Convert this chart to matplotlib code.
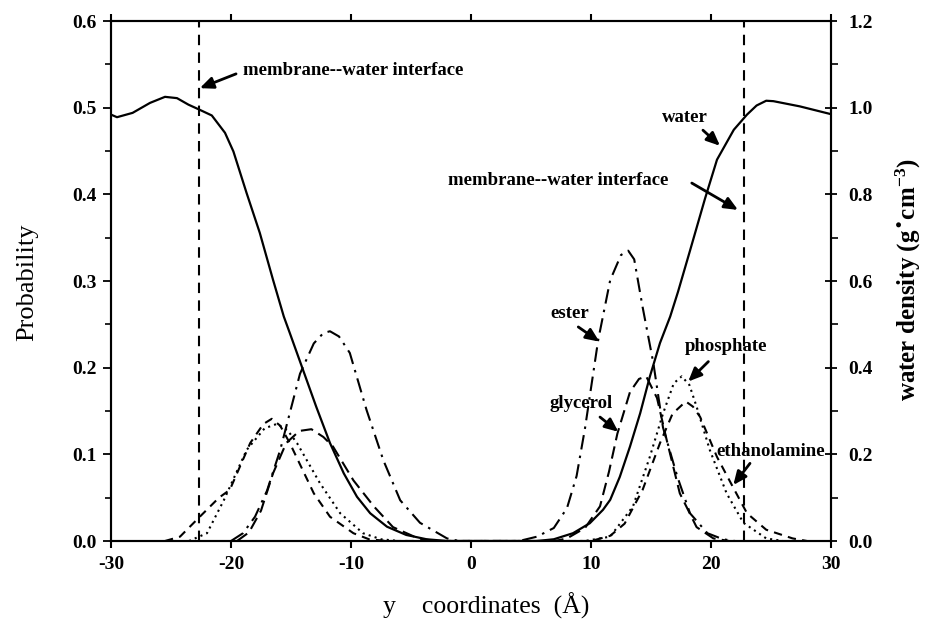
import matplotlib
matplotlib.use("Agg")
import matplotlib.pyplot as plt
from matplotlib.ticker import MultipleLocator

plt.rcParams['font.family'] = ['Liberation Serif', 'DejaVu Serif']
plt.rcParams['mathtext.default'] = 'regular'

# ---------------- data ----------------
water_x = [-30, -29.5, -28.2, -26.75, -25.5, -24.5, -23.55, -22.6, -21.6, -20.5, -19.8, -18.7,
           -17.6, -16.5, -15.6, -15.1, -14.0, -12.9, -11.75, -10.6, -9.5, -8.4, -7.0, -5.4,
           -3.7, -2.0, 0, 2, 4, 5.5, 6.9, 8.5, 9.9, 11.0, 11.6, 12.4, 13.25, 14.1, 14.9,
           15.75, 16.6, 17.25, 18.25, 19.5, 20.5, 21.9, 23.0, 23.8, 24.6, 25.2, 27.4, 30]
water_y = [0.984, 0.978, 0.988, 1.011, 1.025, 1.022, 1.007, 0.995, 0.982, 0.942, 0.899, 0.803,
           0.711, 0.603, 0.518, 0.48, 0.395, 0.31, 0.226, 0.156, 0.102, 0.064, 0.033, 0.014,
           0.004, 0.0, 0.0, 0.0, 0.0, 0.0, 0.004, 0.018, 0.041, 0.072, 0.095, 0.148, 0.218,
           0.295, 0.379, 0.457, 0.518, 0.575, 0.67, 0.79, 0.88, 0.949, 0.984, 1.005, 1.016,
           1.015, 1.003, 0.985]

ester_x = [-20.0, -19.0, -18.0, -17.0, -15.9, -15.0, -14.25, -13.1, -12.3, -11.75, -11.0,
           -10.1, -8.7, -7.3, -5.9, -4.25, -2.0, -1.0,
           4.0, 5.5, 6.9, 8.0, 8.8, 9.5, 10.6, 11.6, 12.5, 13.1, 13.6, 14.3, 15.2, 16.0,
           17.2, 18.25, 19.7, 21.0, 22.0]
ester_y = [0.0, 0.009, 0.028, 0.058, 0.105, 0.153, 0.193, 0.228, 0.240, 0.242, 0.236,
           0.217, 0.151, 0.093, 0.047, 0.021, 0.003, 0.0,
           0.0, 0.005, 0.015, 0.038, 0.075, 0.13, 0.232, 0.301, 0.330, 0.335, 0.325, 0.27,
           0.205, 0.131, 0.074, 0.032, 0.009, 0.002, 0.0]

glycerol_x = [-19.5, -18.5, -17.5, -16.5, -15.4, -14.3, -13.3, -12.3, -11.5, -9.8, -8.1, -6.5,
              -4.4, -3.0,
              7.0, 8.0, 9.5, 10.75, 11.5, 12.2, 13.25, 14.0, 14.6, 15.5, 16.3, 17.4, 18.8,
              20.2, 21.5]
glycerol_y = [0.0, 0.01, 0.035, 0.078, 0.113, 0.127, 0.129, 0.12, 0.109, 0.07, 0.04, 0.016,
              0.003, 0.0,
              0.0, 0.003, 0.015, 0.04, 0.08, 0.124, 0.172, 0.187, 0.19, 0.165, 0.117, 0.055,
              0.016, 0.003, 0.0]

phosphate_x = [-23.5, -22.0, -20.6, -18.7, -17.2, -16.2, -15.3, -14.5, -12.6, -10.9, -9.0,
               -7.5, -6.0,
               9.5, 11.6, 13.5, 14.9, 16.0, 16.9, 17.56, 18.2, 18.8, 19.9, 21.3, 22.7, 24.6,
               26.0]
phosphate_y = [0.0, 0.009, 0.047, 0.105, 0.13, 0.135, 0.128, 0.113, 0.067, 0.032, 0.009,
               0.002, 0.0,
               0.0, 0.005, 0.04, 0.097, 0.147, 0.182, 0.19, 0.18, 0.155, 0.105, 0.055, 0.021,
               0.003, 0.0]

ethanol_x = [-25.5, -24.25, -22.6, -21.0, -20.1, -18.4, -17.3, -16.6, -15.9, -15.1, -13.1,
             -11.75, -9.8, -8.5, -7.0,
             10.0, 11.6, 12.8, 14.3, 15.75, 16.8, 17.9, 18.5, 19.1, 20.5, 21.8, 23.0, 24.6,
             26.8, 28.0]
ethanol_y = [0.0, 0.005, 0.028, 0.05, 0.059, 0.113, 0.135, 0.141, 0.133, 0.113, 0.055,
             0.028, 0.009, 0.002, 0.0,
             0.0, 0.006, 0.02, 0.059, 0.113, 0.147, 0.161, 0.155, 0.143, 0.097, 0.063, 0.032,
             0.013, 0.003, 0.0]

interface_x = [-22.7, 22.75]

xticks = [-30, -20, -10, 0, 10, 20, 30]
left_ticks = [0.0, 0.1, 0.2, 0.3, 0.4, 0.5, 0.6]
right_ticks = [0.0, 0.2, 0.4, 0.6, 0.8, 1.0, 1.2]

# ---------------- figure ----------------
fig = plt.figure(figsize=(9.26, 6.23), dpi=100)
ax = fig.add_axes([111/926, 1-541/623, 720/926, 520/623])
ax2 = ax.twinx()

lw = 1.5
ax.plot(ester_x, ester_y, color='k', lw=lw, ls=(0, (7, 3, 1.2, 3)))
ax.plot(glycerol_x, glycerol_y, color='k', lw=lw, ls=(0, (6, 3)))
ax.plot(phosphate_x, phosphate_y, color='k', lw=lw, ls=(0, (1, 2)))
ax.plot(ethanol_x, ethanol_y, color='k', lw=lw, ls=(0, (4, 3)))
for xv in interface_x:
    ax.axvline(xv, color='k', lw=1.5, ls=(0, (5, 3.5)))
ax2.plot(water_x, water_y, color='k', lw=1.6, ls='-')

ax.set_xlim(-30, 30)
ax.set_ylim(0, 0.6)
ax2.set_ylim(0, 1.2)
ax.set_xticks(xticks)
ax.set_xticklabels([str(v) for v in xticks])
ax.set_yticks(left_ticks)
ax.set_yticklabels(['%.1f' % v for v in left_ticks])
ax2.set_yticks(right_ticks)
ax2.set_yticklabels(['%.1f' % v for v in right_ticks])
ax.yaxis.set_minor_locator(MultipleLocator(0.05))
ax2.yaxis.set_minor_locator(MultipleLocator(0.1))

for a in (ax, ax2):
    for s in a.spines.values():
        s.set_linewidth(1.5)

ax.tick_params(axis='x', which='major', direction='out', length=5, width=1.5,
               labelsize=14, pad=6, top=True)
ax.tick_params(axis='y', which='major', direction='out', length=6, width=1.3,
               labelsize=14, pad=4)
ax.tick_params(axis='y', which='minor', direction='out', length=4, width=1.2)
ax2.tick_params(axis='y', which='major', direction='inout', length=9, width=1.3,
                labelsize=14, pad=8)
ax2.tick_params(axis='y', which='minor', direction='out', length=5, width=1.2)
for lab in ax.get_xticklabels() + ax.get_yticklabels() + ax2.get_yticklabels():
    lab.set_fontweight('bold')

# axis labels
fig.text(27/926, 1-282/623, 'Probability', rotation=90, ha='center', va='center',
         fontsize=19)
fig.text(908/926, 1-280/623, 'water density (g$^{\u2022}$cm$^{-3}$)', rotation=90,
         ha='center', va='center', fontsize=18, fontweight='bold')
fig.text(486/926, 1-606/623, 'y    coordinates  (\u00c5)', ha='center', va='center',
         fontsize=18.5)

# annotations
tfs = 13.5
arrow_kw = dict(arrowstyle='-|>,head_length=0.8,head_width=0.35', color='k', lw=2,
                shrinkA=0, shrinkB=0)
def note(text, tx, ty, tail, tip, ha='center'):
    ax.text(tx, ty, text, ha=ha, va='center', fontsize=tfs, fontweight='bold')
    ax.annotate('', xy=tip, xytext=tail, arrowprops=arrow_kw)

note('membrane--water interface', -19.0, 0.543, (-19.58, 0.539), (-22.6, 0.5225), ha='left')
note('water', 17.83, 0.489, (19.33, 0.474), (20.75, 0.456))
note('membrane--water interface', -1.9, 0.416, (18.4, 0.413), (22.25, 0.382), ha='left')
note('ester', 8.25, 0.263, (8.94, 0.247), (10.7, 0.23))
note('glycerol', 9.17, 0.159, (10.75, 0.143), (12.28, 0.126))
note('phosphate', 21.24, 0.224, (19.78, 0.207), (18.1, 0.184))
note('ethanolamine', 25.0, 0.103, (23.25, 0.0896), (21.86, 0.0646))

fig.savefig('out.png', dpi=100)
